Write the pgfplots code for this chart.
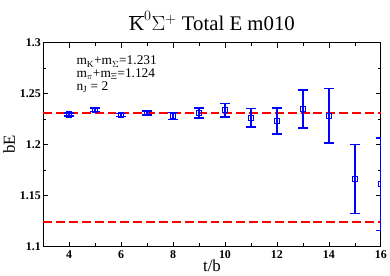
\documentclass[border=0pt]{standalone}
\usepackage{pgfplots}
\pgfplotsset{compat=1.18}
\usepackage{fontspec}
\setmainfont{Liberation Serif}
\setsansfont{Liberation Sans}
\begin{document}
\begin{tikzpicture}[x=1pt,y=1pt]
\begin{axis}[
  at={(0,0)}, anchor=south west,
  scale only axis, width=341pt, height=206pt,
  xmin=3, xmax=16, ymin=1.1, ymax=1.3,
  xtick={4,6,...,16}, minor x tick num=1,
  ytick={1.1,1.15,1.2,1.25,1.3}, minor y tick num=1,
  yticklabel style={/pgf/number format/fixed,/pgf/number format/precision=2, xshift=1pt},
  xticklabel style={yshift=-1pt},
  tick align=inside, tick pos=both,
  major tick length=5pt, minor tick length=3pt,
  axis line style={line width=1.3pt},
  every tick/.style={black,line width=0.6pt},
  ticklabel style={font=\fontsize{12}{13}\selectfont\bfseries},
  /pgf/number format/assume math mode=true,
  xlabel={t/b}, ylabel={bE},
  label style={font=\fontsize{17}{18}\selectfont},
  xlabel style={yshift=6pt},
  ylabel style={yshift=-2pt},
  title={$\overline{\mathrm{K}}^{0}\Sigma^{+}$ Total E m010},
  title style={font=\fontsize{21}{22}\selectfont, yshift=2pt},
  clip marker paths=true,
]
\addplot[red, line width=1.5pt, dash pattern=on 9pt off 4pt] coordinates {(3,1.231) (16,1.231)};
\addplot[red, line width=1.5pt, dash pattern=on 9pt off 4pt] coordinates {(3,1.124) (16,1.124)};
\addplot[blue, line width=1.5pt, only marks, mark=square, mark size=2.6pt,
  mark options={line width=1pt, fill=white},
  error bars/.cd, y dir=both, y explicit,
  error mark options={rotate=90, mark size=5pt, line width=1.5pt},
  error bar style={line width=1.5pt}]
  coordinates {
  (4,1.2294) +- (0,0.0015)
  (5,1.2340) +- (0,0.0018)
  (6,1.2291) +- (0,0.0015)
  (7,1.2311) +- (0,0.0020)
  (8,1.2279) +- (0,0.0036)
  (9,1.2310) +- (0,0.0050)
  (10,1.2337) +- (0,0.0065)
  (11,1.2262) +- (0,0.0090)
  (12,1.2230) +- (0,0.0126)
  (13,1.2347) +- (0,0.0186)
  (14,1.2282) +- (0,0.0267)
  (15,1.1660) +- (0,0.0338)
  (16,1.1610) +- (0,0.0456)
  };
\path (rel axis cs:0.098,0.89) node[anchor=base west, inner sep=0pt, font=\fontsize{13.5}{14}\selectfont]
  {m\textsubscript{K}+m\textsubscript{$\Sigma$}=1.231};
\path (rel axis cs:0.098,0.827) node[anchor=base west, inner sep=0pt, font=\fontsize{13.5}{14}\selectfont]
  {m\textsubscript{$\pi$}+m\textsubscript{$\Xi$}=1.124};
\path (rel axis cs:0.098,0.764) node[anchor=base west, inner sep=0pt, font=\fontsize{13.5}{14}\selectfont]
  {n\textsubscript{J} = 2};
\end{axis}
\path[use as bounding box] (-40,-29) rectangle (350,249);
\end{tikzpicture}
\end{document}
